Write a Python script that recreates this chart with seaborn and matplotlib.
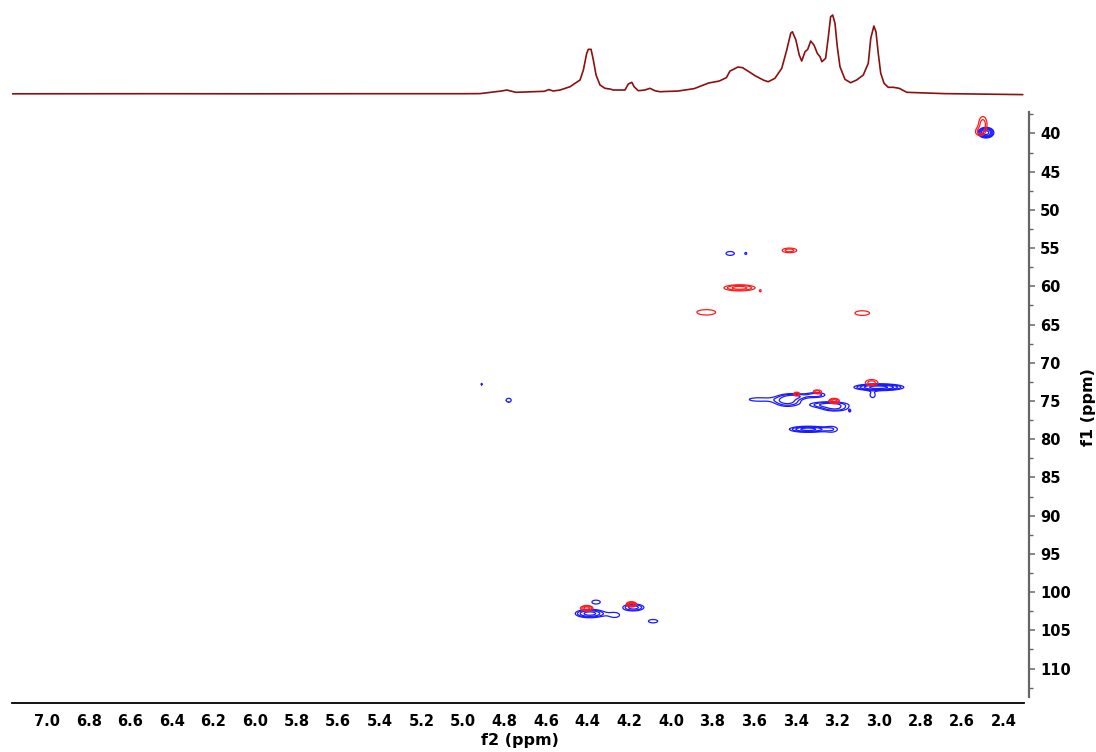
import numpy as np
import pandas as pd
import matplotlib
matplotlib.use("Agg")
import matplotlib.pyplot as plt
from matplotlib.ticker import MultipleLocator
import seaborn as sns

# 1D proton trace (f2 ppm, intensity)
proton_ppm = [7.17, 6.5, 6.0, 5.5, 5.0, 4.918, 4.815, 4.789, 4.746, 4.609, 4.587, 4.566,
              4.533, 4.485, 4.461, 4.437, 4.421, 4.405, 4.397, 4.384, 4.373, 4.360, 4.341,
              4.317, 4.293, 4.277, 4.221, 4.205, 4.188, 4.177, 4.157, 4.125, 4.101, 4.077,
              4.053, 3.965, 3.888, 3.819, 3.767, 3.733, 3.716, 3.699, 3.678, 3.656, 3.630,
              3.596, 3.553, 3.532, 3.500, 3.467, 3.443, 3.424, 3.416, 3.399, 3.383, 3.371,
              3.355, 3.342, 3.328, 3.312, 3.296, 3.283, 3.274, 3.256, 3.243, 3.232, 3.222,
              3.211, 3.200, 3.187, 3.163, 3.136, 3.107, 3.075, 3.051, 3.039, 3.024, 3.014,
              3.003, 2.991, 2.975, 2.955, 2.931, 2.902, 2.866, 2.687, 2.308]
proton_int = [0.2, 0.3, 0.2, 0.3, 0.3, 0.4, 3.0, 4.0, 1.7, 2.7, 4.4, 3.0,
              4.0, 7.3, 10.7, 14.0, 24.0, 40.7, 44.7, 44.7, 34.0, 19.0, 9.0,
              5.7, 5.0, 4.0, 4.0, 10.0, 11.7, 7.3, 3.3, 4.0, 5.7, 3.3,
              2.3, 3.0, 5.4, 11.0, 13.0, 16.4, 23.0, 24.7, 27.0, 26.4, 23.0,
              18.4, 13.7, 12.3, 15.7, 25.7, 44.0, 60.7, 62.3, 54.0, 39.0, 33.0,
              42.3, 44.7, 53.0, 49.0, 40.7, 37.3, 32.3, 35.7, 57.3, 77.3, 79.0,
              70.7, 47.3, 27.3, 14.7, 11.3, 14.0, 19.0, 30.7, 55.7, 68.0, 62.3,
              40.7, 20.7, 10.7, 6.7, 6.7, 5.7, 1.7, 0.4, -0.6]

# HSQC cross peaks: centre (f2, f1), half extent of outer contour, number of rings
blue_f2 = [2.485, 3.715, 3.64, 4.91, 4.78, 3.578, 3.44, 3.40, 3.30, 3.24, 3.21, 3.14,
           3.34, 3.225, 3.00, 3.03, 4.39, 4.36, 4.27, 4.18, 4.086]
blue_f1 = [39.9, 55.7, 55.7, 72.8, 74.9, 74.8, 75.0, 74.4, 74.2, 75.5, 76.0, 76.3,
           78.7, 78.7, 73.2, 74.2, 102.8, 101.3, 103.0, 102.0, 103.8]
blue_w2 = [0.038, 0.02, 0.004, 0.003, 0.012, 0.045, 0.06, 0.05, 0.04, 0.09, 0.05, 0.003,
           0.09, 0.02, 0.12, 0.012, 0.07, 0.02, 0.022, 0.05, 0.022]
blue_w1 = [0.7, 0.25, 0.12, 0.1, 0.25, 0.22, 0.7, 0.3, 0.3, 0.4, 0.3, 0.1,
           0.4, 0.3, 0.45, 0.35, 0.55, 0.25, 0.3, 0.45, 0.22]
blue_rings = [5, 1, 1, 1, 1, 1, 3, 2, 2, 3, 2, 1, 4, 1, 5, 1, 4, 1, 1, 3, 1]

red_f2 = [2.50, 2.52, 3.43, 3.67, 3.57, 3.83, 3.08, 3.395, 3.296, 3.215, 3.035, 4.405, 4.19]
red_f1 = [38.8, 39.8, 55.3, 60.2, 60.6, 63.4, 63.5, 74.1, 73.8, 75.0, 72.6, 102.1, 101.6]
red_w2 = [0.02, 0.012, 0.035, 0.075, 0.003, 0.045, 0.035, 0.015, 0.02, 0.025, 0.03, 0.03, 0.025]
red_w1 = [1.0, 0.3, 0.3, 0.4, 0.1, 0.35, 0.3, 0.25, 0.25, 0.35, 0.4, 0.35, 0.35]
red_rings = [2, 1, 2, 3, 1, 1, 1, 2, 2, 3, 2, 3, 3]

ratio = 1.5
g2 = np.arange(2.28, 5.0, 0.002)
g1 = np.arange(36.0, 112.0, 0.05)


def peak_field(f2s, f1s, w2s, w1s, rings):
    z = np.zeros((len(g1), len(g2)))
    for c2, c1, w2, w1, n in zip(f2s, f1s, w2s, w1s, rings):
        amp = 1.25 * ratio ** (n - 1)
        k = np.sqrt(2 * np.log(amp))
        gx = np.exp(-0.5 * ((g2 - c2) / (w2 / k)) ** 2)
        gy = np.exp(-0.5 * ((g1 - c1) / (w1 / k)) ** 2)
        z += amp * np.outer(gy, gx)
    return z


sns.set_style("white")
plt.rcParams["font.family"] = ["DejaVu Sans"]
plt.rcParams["font.weight"] = "bold"
plt.rcParams["text.color"] = "black"
plt.rcParams["axes.labelcolor"] = "black"

fig = plt.figure(figsize=(10.96, 7.52), dpi=100)
ax = fig.add_axes([0.01068, 0.06516, 0.9282, 0.7859])
top = fig.add_axes([0.01068, 0.8670, 0.9282, 0.1263])

levels = ratio ** np.arange(0, 10)
ax.contour(g2, g1, peak_field(blue_f2, blue_f1, blue_w2, blue_w1, blue_rings),
           levels=levels, colors="#1a1aff", linewidths=0.9)
ax.contour(g2, g1, peak_field(red_f2, red_f1, red_w2, red_w1, red_rings),
           levels=levels, colors="#ff1a1a", linewidths=0.9)

ax.set_xlim(7.17, 2.278)
ax.set_ylim(114.5, 37.2)
ax.set_xticks(np.arange(2.4, 7.01, 0.2))
ax.set_xticklabels([f"{v:.1f}" for v in np.arange(2.4, 7.01, 0.2)])
ax.xaxis.set_minor_locator(MultipleLocator(0.1))
ax.yaxis.tick_right()
ax.yaxis.set_label_position("right")
ax.set_yticks(range(40, 111, 5))
ax.yaxis.set_minor_locator(MultipleLocator(2.5))
for s in ["left", "top"]:
    ax.spines[s].set_visible(False)
ax.spines["bottom"].set_color("black")
ax.spines["bottom"].set_linewidth(1.3)
ax.spines["bottom"].set_bounds(7.17, 2.30)
ax.spines["right"].set_color("#666666")
ax.spines["right"].set_linewidth(1.6)
ax.spines["right"].set_bounds(37.2, 113.75)
ax.tick_params(axis="x", which="major", direction="out", length=4, width=1.1,
               colors="black", labelsize=10.5, pad=4)
ax.tick_params(axis="x", which="minor", direction="out", length=2.5, width=1.0, colors="#444444")
ax.tick_params(axis="y", which="major", direction="out", length=4, width=1.1,
               color="#666666", labelcolor="black", labelsize=10.5, pad=4)
ax.tick_params(axis="y", which="minor", direction="out", length=3, width=1.0, color="#666666")
for lab in ax.get_xticklabels() + ax.get_yticklabels():
    lab.set_fontweight("bold")
ax.set_xlabel("f2 (ppm)", fontsize=11.5, fontweight="bold", labelpad=3, color="black")
ax.set_ylabel("f1 (ppm)", fontsize=11.5, fontweight="bold", labelpad=7, color="black")

df = pd.DataFrame({"ppm": proton_ppm, "intensity": proton_int})
sns.lineplot(data=df, x="ppm", y="intensity", ax=top, color="#8b1010",
             linewidth=1.2, sort=False)
top.set_xlim(7.17, 2.278)
top.set_ylim(-6, 89)
top.axis("off")

fig.savefig("out.png", dpi=100)
